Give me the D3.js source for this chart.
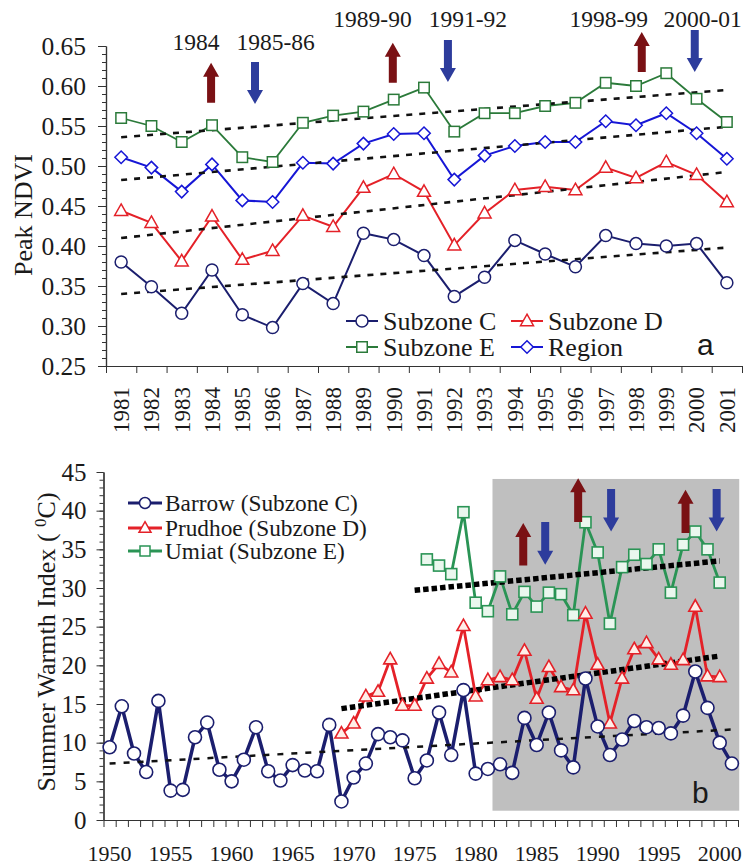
<!DOCTYPE html>
<html><head><meta charset="utf-8">
<script src="https://cdn.jsdelivr.net/npm/d3@7"></script>
<style>body{margin:0;background:#fff}svg{display:block}</style>
</head><body>
<svg id="c" width="743" height="867"></svg>
<script>
// ---------------- DATA (panel a) ----------------
const yearsA = [1981,1982,1983,1984,1985,1986,1987,1988,1989,1990,1991,1992,1993,1994,1995,1996,1997,1998,1999,2000,2001];
const subzoneC = [0.380,0.349,0.316,0.370,0.314,0.298,0.353,0.328,0.416,0.408,0.388,0.337,0.361,0.407,0.390,0.374,0.413,0.403,0.400,0.403,0.354];
const subzoneD = [0.444,0.429,0.381,0.437,0.383,0.394,0.438,0.424,0.473,0.490,0.468,0.401,0.441,0.470,0.474,0.470,0.498,0.485,0.505,0.489,0.455];
const subzoneE = [0.560,0.550,0.530,0.551,0.511,0.505,0.554,0.563,0.568,0.583,0.598,0.543,0.566,0.566,0.575,0.579,0.604,0.600,0.616,0.584,0.555];
const region   = [0.511,0.498,0.468,0.502,0.457,0.455,0.504,0.503,0.528,0.540,0.541,0.483,0.513,0.525,0.530,0.530,0.556,0.551,0.566,0.541,0.509];
// trend lines: [startYear, startValue, endYear, endValue]
const trendE_A = [1981,0.536,2001,0.595];
const trendR_A = [1981,0.4825,2001,0.549];
const trendD_A = [1981,0.410,2001,0.4925];
const trendC_A = [1981,0.340,2001,0.398];
const yTicksA = [0.25,0.30,0.35,0.40,0.45,0.50,0.55,0.60,0.65];
// event arrows
const eventLabelsA = ["1984","1985-86","1989-90","1991-92","1998-99","2000-01"];
const eventLabelX_A = [1983.47,1986.1,1989.3,1992.45,1997.1,2000.2];
const eventLabelV_A = [0.645,0.645,0.674,0.674,0.674,0.674];
const arrowX_A = [1983.97,1985.42,1989.97,1991.79,1998.19,1999.94];
const arrowTop_A = [0.629,0.630,0.654,0.6575,0.6675,0.670];
const arrowBot_A = [0.579,0.5775,0.604,0.605,0.6175,0.6175];
const arrowDir = ["up","down","up","down","up","down"];

// ---------------- DATA (panel b) ----------------
const yearsBarrow = [1950,1951,1952,1953,1954,1955,1956,1957,1958,1959,1960,1961,1962,1963,1964,1965,1966,1967,1968,1969,1970,1971,1972,1973,1974,1975,1976,1977,1978,1979,1980,1981,1982,1983,1984,1985,1986,1987,1988,1989,1990,1991,1992,1993,1994,1995,1996,1997,1998,1999,2000,2001];
const barrow = [9.4,14.7,8.6,6.2,15.4,3.8,3.9,10.7,12.6,6.5,5.0,7.8,12.0,6.3,5.1,7.1,6.4,6.3,12.3,2.4,5.5,7.3,11.1,10.7,10.3,5.4,7.7,13.9,8.4,16.8,6.0,6.6,7.2,6.1,13.2,9.7,13.9,9.0,6.8,18.3,12.1,8.4,10.4,12.8,12.0,11.9,11.2,13.5,19.2,14.5,10.0,7.3];
const yearsPrudhoe = [1969,1970,1971,1972,1973,1974,1975,1976,1977,1978,1979,1980,1981,1982,1983,1984,1985,1986,1987,1988,1989,1990,1991,1992,1993,1994,1995,1996,1997,1998,1999,2000];
const prudhoe = [11.2,12.5,16.0,16.6,20.8,14.8,14.8,18.3,20.2,19.1,25.1,16.0,18.1,18.5,18.1,21.9,15.7,19.8,17.2,16.8,26.7,20.1,12.5,18.3,22.1,22.9,20.8,20.1,20.7,27.6,18.6,18.5];
const yearsUmiat = [1976,1977,1978,1979,1980,1981,1982,1983,1984,1985,1986,1987,1988,1989,1990,1991,1992,1993,1994,1995,1996,1997,1998,1999,2000];
const umiat = [33.7,32.9,31.8,39.8,28.1,27.0,31.5,26.6,29.5,27.6,29.4,29.2,26.5,38.5,34.6,25.4,32.7,34.3,33.1,35.0,29.4,35.6,37.3,35.0,30.7];
const trendBarrow = [1950,7.3,2001,11.7];
const trendPrudhoe = [1969,14.4,2000,21.2];
const trendUmiat = [1975,29.7,2000,33.5];
const yTicksB = [0,5,10,15,20,25,30,35,40,45];
const xLabelsB = [1950,1955,1960,1965,1970,1975,1980,1985,1990,1995,2000];
const shadeYears = [1981.38,2001.6];
const shadeVals = [1.2,44.1];
const arrowX_B = [1983.9,1985.7,1988.4,1991.1,1997.2,1999.75];
const arrowTop_B = [38.4,38.55,44.2,42.8,42.7,42.8];
const arrowBot_B = [32.9,33.0,38.55,37.3,37.1,37.3];

// ---------------- DRAWING ----------------
const svg = d3.select("#c");
const serif = "Liberation Serif, Times New Roman, serif";
const sans = "Liberation Sans, Arial, sans-serif";
const txt = "#1a1a1a", axc = "#333";
const navy = "#1b1e6e", red = "#e42128", greenA = "#2b7a3a", blue = "#1616d6";
const greenB = "#2a9455", arrRed = "#7a1114", arrBlue = "#2d3c9c";

function mark(g, type, x, y, s, stroke, fill, sw) {
  if (type === "circle") {
    g.append("circle").attr("cx", x).attr("cy", y).attr("r", s / 2)
      .attr("fill", fill).attr("stroke", stroke).attr("stroke-width", sw);
  } else if (type === "square") {
    g.append("rect").attr("x", x - s / 2).attr("y", y - s / 2).attr("width", s).attr("height", s)
      .attr("fill", fill).attr("stroke", stroke).attr("stroke-width", sw);
  } else if (type === "diamond") {
    const h = s / 2;
    g.append("path").attr("d", `M${x},${y-h}L${x+h},${y}L${x},${y+h}L${x-h},${y}Z`)
      .attr("fill", fill).attr("stroke", stroke).attr("stroke-width", sw);
  } else {
    const h = s / 2;
    g.append("path").attr("d", `M${x},${y-h*1.05}L${x+h},${y+h*0.72}L${x-h},${y+h*0.72}Z`)
      .attr("fill", fill).attr("stroke", stroke).attr("stroke-width", sw);
  }
}
function arrow(g, x, yt, yb, dir, color) {
  const sw = 8, hw = 16, hl = 14;
  let p;
  if (dir === "up") {
    p = `M${x},${yt}L${x+hw/2},${yt+hl}L${x+sw/2},${yt+hl}L${x+sw/2},${yb}L${x-sw/2},${yb}L${x-sw/2},${yt+hl}L${x-hw/2},${yt+hl}Z`;
  } else {
    p = `M${x},${yb}L${x+hw/2},${yb-hl}L${x+sw/2},${yb-hl}L${x+sw/2},${yt}L${x-sw/2},${yt}L${x-sw/2},${yb-hl}L${x-hw/2},${yb-hl}Z`;
  }
  g.append("path").attr("d", p).attr("fill", color);
}
function styleAxis(sel) {
  sel.selectAll("path.domain").attr("stroke", axc).attr("stroke-width", 1.2);
  sel.selectAll(".tick line").attr("stroke", axc).attr("stroke-width", 1);
}
function tx(sel, fam, size) {
  return sel.style("font-family", fam).style("font-size", size + "px").attr("fill", txt);
}

// ===== Panel a =====
const xA = d3.scaleLinear().domain([1980.5, 2001.5]).range([106, 742]);
const yA = d3.scaleLinear().domain([0.25, 0.65]).range([366, 46]);
const gA = svg.append("g");

const bndA = d3.range(1980.5, 2002, 1);
gA.append("g").attr("transform", "translate(0,366)")
  .call(d3.axisBottom(xA).tickValues(bndA).tickFormat("").tickSize(7).tickSizeOuter(0))
  .call(styleAxis);
gA.append("g").selectAll("text").data(yearsA).join("text")
  .attr("transform", d => `translate(${xA(d)},387) rotate(-90)`)
  .attr("text-anchor", "end").attr("dy", "0.34em")
  .call(tx, serif, 23)
  .text(d => d);
gA.append("g").attr("transform", "translate(106,0)")
  .call(d3.axisLeft(yA).tickValues(d3.range(0.25, 0.6501, 0.01)).tickFormat("").tickSize(4).tickSizeOuter(0))
  .call(styleAxis);
gA.append("g").attr("transform", "translate(106,0)")
  .call(d3.axisLeft(yA).tickValues(yTicksA).tickFormat(d3.format(".2f")).tickSize(8).tickSizeOuter(0).tickPadding(12))
  .call(styleAxis)
  .call(s => s.selectAll("text").call(tx, serif, 25.5));
gA.append("text").attr("transform", "translate(32,215) rotate(-90)")
  .attr("text-anchor", "middle").call(tx, serif, 26)
  .text("Peak NDVI");

const lineA = d3.line().x(d => xA(d[0])).y(d => yA(d[1]));
const seriesA = [
  {v: subzoneE, c: greenA, t: "square", s: 10.5, w: 1.8},
  {v: region, c: blue, t: "diamond", s: 12.5, w: 2},
  {v: subzoneD, c: red, t: "triangle", s: 13, w: 2},
  {v: subzoneC, c: navy, t: "circle", s: 12, w: 2}
];
seriesA.forEach(s => {
  gA.append("path").datum(yearsA.map((y, i) => [y, s.v[i]]))
    .attr("d", lineA).attr("fill", "none").attr("stroke", s.c).attr("stroke-width", s.w);
});
[trendE_A, trendR_A, trendD_A, trendC_A].forEach(t => {
  gA.append("path").datum([[t[0], t[1]], [t[2], t[3]]]).attr("d", lineA)
    .attr("fill", "none").attr("stroke", "#111").attr("stroke-width", 2.6).attr("stroke-dasharray", "6,7");
});
seriesA.forEach(s => {
  yearsA.forEach((y, i) => mark(gA, s.t, xA(y), yA(s.v[i]), s.s, s.c, "#fff", 1.5));
});
eventLabelsA.forEach((l, i) => {
  gA.append("text").attr("x", xA(eventLabelX_A[i])).attr("y", yA(eventLabelV_A[i]))
    .attr("text-anchor", "middle").call(tx, serif, 23.5).text(l);
  arrow(gA, xA(arrowX_A[i]), yA(arrowTop_A[i]), yA(arrowBot_A[i]), arrowDir[i], arrowDir[i] === "up" ? arrRed : arrBlue);
});
const legA = [
  {n: "Subzone C", c: navy, t: "circle", s: 12, x: 362, y: 321},
  {n: "Subzone D", c: red, t: "triangle", s: 13, x: 527, y: 321},
  {n: "Subzone E", c: greenA, t: "square", s: 10.5, x: 362, y: 347},
  {n: "Region", c: blue, t: "diamond", s: 12.5, x: 527, y: 347}
];
legA.forEach(d => {
  gA.append("line").attr("x1", d.x - 16).attr("x2", d.x + 16).attr("y1", d.y).attr("y2", d.y)
    .attr("stroke", d.c).attr("stroke-width", 2);
  mark(gA, d.t, d.x, d.y, d.s, d.c, "#fff", 1.5);
  gA.append("text").attr("x", d.x + 21).attr("y", d.y + 9).call(tx, serif, 26).text(d.n);
});
gA.append("text").attr("x", 697).attr("y", 355).call(tx, sans, 30).text("a");

// ===== Panel b =====
const xB = d3.scaleLinear().domain([1949.5, 2001.5]).range([103.5, 738]);
const yB = d3.scaleLinear().domain([0, 45]).range([820, 472]);
const gB = svg.append("g");
gB.append("rect").attr("x", xB(shadeYears[0])).attr("y", yB(shadeVals[1]))
  .attr("width", xB(shadeYears[1]) - xB(shadeYears[0])).attr("height", yB(shadeVals[0]) - yB(shadeVals[1]))
  .attr("fill", "#bfbfbf");
const bndB = d3.range(1949.5, 2002, 1);
gB.append("g").attr("transform", "translate(0,820)")
  .call(d3.axisBottom(xB).tickValues(bndB).tickFormat("").tickSize(7).tickSizeOuter(0))
  .call(styleAxis);
gB.append("g").selectAll("text").data(xLabelsB).join("text")
  .attr("x", d => xB(d)).attr("y", 861).attr("text-anchor", "middle")
  .call(tx, serif, 22).text(d => d);
gB.append("g").attr("transform", "translate(103.5,0)")
  .call(d3.axisLeft(yB).tickValues(d3.range(0, 45.5, 1)).tickFormat("").tickSize(4).tickSizeOuter(0))
  .call(styleAxis);
gB.append("g").attr("transform", "translate(103.5,0)")
  .call(d3.axisLeft(yB).tickValues(yTicksB).tickFormat(d3.format("d")).tickSize(7).tickSizeOuter(0).tickPadding(10))
  .call(styleAxis)
  .call(s => s.selectAll("text").call(tx, serif, 25));
const yl = gB.append("text").attr("transform", "translate(55,642) rotate(-90)")
  .attr("text-anchor", "middle").call(tx, serif, 26);
yl.append("tspan").text("Summer Warmth Index ( ");
yl.append("tspan").attr("baseline-shift", "super").style("font-size", "17px").text("0");
yl.append("tspan").text("C)");

const lineB = d3.line().x(d => xB(d[0])).y(d => yB(d[1]));
const seriesB = [
  {yr: yearsUmiat, v: umiat, c: greenB, t: "square", s: 11, w: 2.8, f: "#eaf7ee"},
  {yr: yearsPrudhoe, v: prudhoe, c: red, t: "triangle", s: 13, w: 2.8, f: "#ffeee8"},
  {yr: yearsBarrow, v: barrow, c: navy, t: "circle", s: 13, w: 3.5, f: "#fff"}
];
seriesB.forEach(s => {
  gB.append("path").datum(s.yr.map((y, i) => [y, s.v[i]]))
    .attr("d", lineB).attr("fill", "none").attr("stroke", s.c).attr("stroke-width", s.w).attr("stroke-linejoin", "round");
});
gB.append("path").datum([[trendBarrow[0], trendBarrow[1]], [trendBarrow[2], trendBarrow[3]]]).attr("d", lineB)
  .attr("fill", "none").attr("stroke", "#111").attr("stroke-width", 2.5).attr("stroke-dasharray", "6,8");
[trendPrudhoe, trendUmiat].forEach(t => {
  gB.append("path").datum([[t[0], t[1]], [t[2], t[3]]]).attr("d", lineB)
    .attr("fill", "none").attr("stroke", "#000").attr("stroke-width", 5.5).attr("stroke-dasharray", "5.5,3");
});
seriesB.forEach(s => {
  s.yr.forEach((y, i) => mark(gB, s.t, xB(y), yB(s.v[i]), s.s, s.c, s.f, 1.6));
});
arrowX_B.forEach((a, i) => {
  arrow(gB, xB(a), yB(arrowTop_B[i]), yB(arrowBot_B[i]), arrowDir[i], arrowDir[i] === "up" ? arrRed : arrBlue);
});
const legB = [
  {n: "Barrow (Subzone C)", c: navy, t: "circle", s: 11, y: 503},
  {n: "Prudhoe (Subzone D)", c: red, t: "triangle", s: 12, y: 528},
  {n: "Umiat (Subzone E)", c: greenB, t: "square", s: 10, y: 551}
];
legB.forEach(d => {
  gB.append("line").attr("x1", 128).attr("x2", 162).attr("y1", d.y).attr("y2", d.y)
    .attr("stroke", d.c).attr("stroke-width", 3);
  mark(gB, d.t, 145, d.y, d.s, d.c, "#fff", 1.5);
  gB.append("text").attr("x", 165).attr("y", d.y + 8).call(tx, serif, 23.3).text(d.n);
});
gB.append("text").attr("x", 692).attr("y", 803).call(tx, sans, 30).text("b");
</script>
</body></html>
